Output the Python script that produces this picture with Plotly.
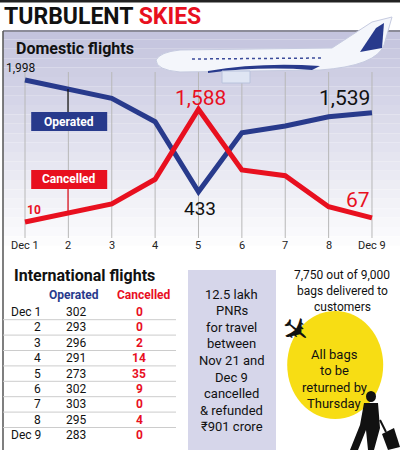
import plotly.graph_objects as go

days = [1, 2, 3, 4, 5, 6, 7, 8, 9]
day_labels = ["Dec 1", "2", "3", "4", "5", "6", "7", "8", "Dec 9"]
operated = [1998, 1872, 1742, 1414, 433, 1260, 1354, 1484, 1539]
cancelled = [10, 132, 262, 608, 1588, 738, 658, 224, 67]

intl_days = ["Dec 1", "2", "3", "4", "5", "6", "7", "8", "Dec 9"]
intl_operated = [302, 293, 296, 291, 273, 302, 303, 295, 283]
intl_cancelled = [0, 0, 2, 14, 35, 9, 0, 4, 0]

NAVY = "#283a8c"
RED = "#e8101f"
FONT = "Roboto, sans-serif"
PX = 450.0

def py(p):
    # pixel row -> paper y
    return 1 - p / PX

def note(x, y, text, size=13, color="#111", **kw):
    d = dict(x=x, y=py(y), xref="paper", yref="paper", showarrow=False, text=text,
             xanchor="center", yanchor="middle",
             font=dict(size=size, color=color, family=FONT))
    d.update(kw)
    return d

fig = go.Figure()
fig.add_trace(go.Scatter(x=days, y=operated, mode="lines",
                         line=dict(color=NAVY, width=5), hoverinfo="skip"))
fig.add_trace(go.Scatter(x=days, y=cancelled, mode="lines",
                         line=dict(color=RED, width=5), hoverinfo="skip"))

shapes = []
ann = []

# gradient background of the domestic panel
n = 24
for i in range(n):
    y0, y1 = 30 + i * 225 / n, 30 + (i + 1) * 225 / n
    t = i / (n - 1)
    r = int(196 + (255 - 196) * t); g = int(196 + (255 - 196) * t); b = int(222 + (255 - 222) * t)
    shapes.append(dict(type="rect", xref="paper", yref="paper", x0=0.0075, x1=1,
                       y0=py(y1), y1=py(y0), fillcolor=f"rgb({r},{g},{b})",
                       line=dict(width=0), layer="below"))
shapes.append(dict(type="line", xref="paper", yref="paper", x0=0, x1=1, y0=py(1), y1=py(1),
                   line=dict(color="#222", width=3)))
shapes.append(dict(type="line", xref="paper", yref="paper", x0=0.0075, x1=1, y0=py(31), y1=py(31),
                   line=dict(color="#555", width=1)))
shapes.append(dict(type="line", xref="paper", yref="paper", x0=0.0075, x1=0.0075, y0=0, y1=py(31),
                   line=dict(color="#555", width=1.5)))

# grid lines and day labels
for d, lbl in zip(days, day_labels):
    shapes.append(dict(type="line", xref="x", yref="paper", x0=d, x1=d, y0=py(238), y1=py(72),
                       line=dict(color="#b8b8b8", width=1), layer="below"))
    ann.append(dict(x=d, y=py(246), xref="x", yref="paper", text=lbl, showarrow=False,
                    xanchor="center", yanchor="middle",
                    font=dict(size=11, color="#222", family=FONT)))

# airplane (simplified)
shapes += [
    dict(type="path", xref="paper", yref="paper",
         path=f"M 0.39 {py(60)} Q 0.40 {py(52)} 0.45 {py(50)} L 0.83 {py(48)} L 0.93 {py(22)} "
              f"L 0.98 {py(17)} L 0.96 {py(45)} Q 0.94 {py(66)} 0.80 {py(70)} L 0.45 {py(72)} Q 0.39 {py(70)} 0.39 {py(60)} Z",
         fillcolor="#f4f6fb", line=dict(color="#c6cbe0", width=1)),
    dict(type="path", xref="paper", yref="paper",
         path=f"M 0.94 {py(28)} L 0.96 {py(23)} L 0.955 {py(48)} L 0.90 {py(52)} Z",
         fillcolor=NAVY, line=dict(width=0)),
    dict(type="path", xref="paper", yref="paper",
         path=f"M 0.52 {py(71)} Q 0.65 {py(62)} 0.80 {py(66)} L 0.78 {py(70)} Q 0.65 {py(66)} 0.52 {py(73)} Z",
         fillcolor=NAVY, line=dict(width=0)),
    dict(type="rect", xref="paper", yref="paper", x0=0.555, x1=0.625, y0=py(83), y1=py(71),
         fillcolor="#dfe5f3", line=dict(color="#b8c2dc", width=1)),
    dict(type="line", xref="paper", yref="paper", x0=0.48, x1=0.81, y0=py(59), y1=py(58),
         line=dict(color="#3b4b9a", width=1.5, dash="dot")),
]

# labels on domestic chart
L = dict(xanchor="left")
ann += [
    note(0.005, 16, "<b>TURBULENT <span style='color:#e8101f'>SKIES</span></b>", 23, **L),
    note(0.035, 48, "<b>Domestic flights</b>", 16, **L),
    note(0.01, 68, "1,998", 12, **L),
    note(0.063, 210, "<b>10</b>", 12, RED, **L),
    note(0.5, 98, "1,588", 21, RED),
    note(0.5, 208, "433", 19),
    note(0.93, 98, "1,539", 21, xanchor="right"),
    note(0.93, 200, "67", 21, RED, xanchor="right"),
]

for lbl, col, y0, y1, ly0, ly1 in [("Operated", NAVY, 112, 131, 89, 112), ("Cancelled", RED, 170, 189, 189, 213)]:
    shapes.append(dict(type="line", xref="paper", yref="paper", x0=0.17, x1=0.17, y0=py(ly1), y1=py(ly0),
                       line=dict(color="#111" if col == NAVY else RED, width=1.2)))
    shapes.append(dict(type="rect", xref="paper", yref="paper", x0=0.078, x1=0.268, y0=py(y1), y1=py(y0),
                       fillcolor=col, line=dict(width=0)))
    ann.append(note(0.173, (y0 + y1) / 2, f"<b>{lbl}</b>", 12, "white"))

# International table
ann.append(note(0.03, 275, "<b>International flights</b>", 16, **L))
ann.append(note(0.185, 295, "<b>Operated</b>", 12, NAVY))
ann.append(note(0.36, 295, "<b>Cancelled</b>", 12, RED))
for i, (d, o, c) in enumerate(zip(intl_days, intl_operated, intl_cancelled)):
    yy = 312 + i * 15.4
    ann.append(note(0.107, yy, d, 12, xanchor="right"))
    ann.append(note(0.19, yy, str(o), 12))
    ann.append(note(0.348, yy, f"<b>{c}</b>", 12, RED))
    if i < len(intl_days) - 1:
        shapes.append(dict(type="line", xref="paper", yref="paper", x0=0.0075, x1=0.44,
                           y0=py(yy + 7.7), y1=py(yy + 7.7), line=dict(color="#cccccc", width=1)))

# middle box
shapes.append(dict(type="rect", xref="paper", yref="paper", x0=0.47, x1=0.69, y0=0, y1=py(270),
                   fillcolor="#d6d6ea", line=dict(width=0)))
mid = ["12.5 lakh", "PNRs", "for travel", "between", "Nov 21 and", "Dec 9", "cancelled", "& refunded", "₹901 crore"]
for i, t in enumerate(mid):
    ann.append(note(0.58, 294 + i * 16.6, t, 13))

# right side
for i, t in enumerate(["7,750 out of 9,000", "bags delivered to", "customers"]):
    ann.append(note(0.855, 275 + i * 16, t, 12))
shapes.append(dict(type="circle", xref="paper", yref="paper", x0=0.718, x1=0.958,
                   y0=py(419), y1=py(311), fillcolor="#f7dd14", line=dict(width=0)))
for i, t in enumerate(["All bags", "to be", "returned by", "Thursday"]):
    ann.append(note(0.835, 354 + i * 16.5, t, 13))
ann.append(note(0.74, 330, "✈", 34, textangle=40,
                font=dict(size=34, color="#111", family="DejaVu Sans")))
# traveller silhouette (rough)
shapes += [
    dict(type="circle", xref="paper", yref="paper", x0=0.915, x1=0.94, y0=py(402), y1=py(391),
         fillcolor="#111", line=dict(width=0)),
    dict(type="path", xref="paper", yref="paper",
         path=f"M 0.91 {py(403)} L 0.945 {py(403)} L 0.95 {py(428)} L 0.935 {py(450)} "
              f"L 0.92 {py(450)} L 0.915 {py(430)} L 0.895 {py(450)} L 0.875 {py(450)} L 0.9 {py(425)} Z",
         fillcolor="#111", line=dict(width=0)),
    dict(type="line", xref="paper", yref="paper", x0=0.95, x1=0.965, y0=py(420), y1=py(432),
         line=dict(color="#111", width=2)),
    dict(type="path", xref="paper", yref="paper",
         path=f"M 0.955 {py(434)} L 0.985 {py(428)} L 1.0 {py(447)} L 0.97 {py(450)} Z",
         fillcolor="#111", line=dict(width=0)),
]

fig.update_layout(
    width=400, height=450, margin=dict(l=0, r=0, t=0, b=0),
    paper_bgcolor="white", plot_bgcolor="rgba(0,0,0,0)", showlegend=False,
    xaxis=dict(range=[0.4236, 9.646], visible=False, fixedrange=True),
    yaxis=dict(range=[-3182, 3118], visible=False, fixedrange=True),
    shapes=shapes, annotations=ann,
)
fig.write_html("out.html", post_script="document.body.style.margin='0';",
               config={"displayModeBar": False})
